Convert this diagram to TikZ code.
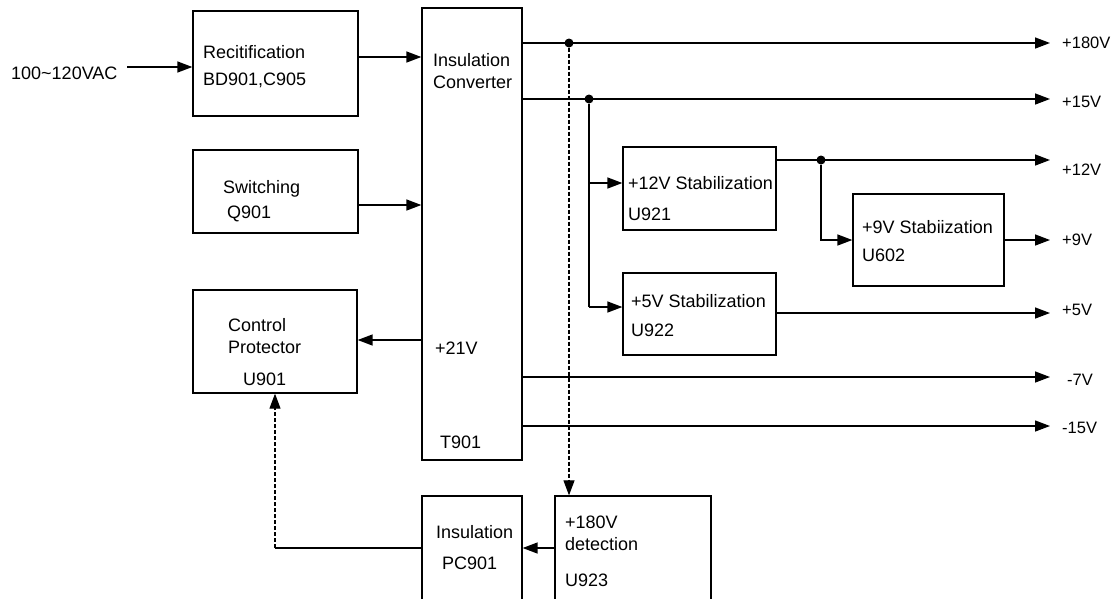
\documentclass[tikz,border=0pt]{standalone}
\usepackage{fontspec}
\setmainfont{Liberation Sans}
\usetikzlibrary{arrows.meta,fit}
\begin{document}
\begin{tikzpicture}[x=1pt,y=-1pt,
  box/.style={draw=black,line width=1.3pt,inner sep=0pt,rectangle},
  lbl/.style={anchor=west,inner sep=0pt,font=\fontsize{18}{21}\selectfont},
  outlbl/.style={anchor=west,inner sep=0pt,font=\fontsize{16.5}{19}\selectfont},
  tip/.tip={Triangle[length=15pt,width=11pt]},
  wire/.style={line width=1.4pt},
  arr/.style={line width=1.4pt,-tip},
  dashline/.style={line width=1.1pt,dash pattern=on 4pt off 2pt},
  junction/.style={circle,fill=black,inner sep=0pt,minimum size=9pt}]
\clip (0,0) rectangle (1115,598);
\fill[white] (0,0) rectangle (1115,598);
% boxes
\node[box,fit={(193,11)(358,116)}] (rec) {};
\node[box,fit={(193,150)(358,233)}] (sw) {};
\node[box,fit={(193,290)(357,393)}] (ctl) {};
\node[box,fit={(422,8)(522,460)}] (conv) {};
\node[box,fit={(623,147)(776,230)}] (s12) {};
\node[box,fit={(623,273)(776,355)}] (s5) {};
\node[box,fit={(853,194)(1004,286)}] (s9) {};
\node[box,fit={(422,496)(522,640)}] (pc) {};
\node[box,fit={(555,496)(711,640)}] (det) {};
% texts
\node[lbl] (tin) at (11,73) {100\textasciitilde120VAC};
\node[lbl] (trec1) at (203,52) {Recitification};
\node[lbl] (trec2) at (203,80) {BD901,C905};
\node[lbl] (tsw1) at (223,189) {Switching};
\node[lbl] (tsw2) at (227,214) {Q901};
\node[lbl] (tctl1) at (228,325) {Control};
\node[lbl] (tctl2) at (228,347) {Protector};
\node[lbl] (tctl3) at (243,379) {U901};
\node[lbl] (tconv1) at (433,60) {Insulation};
\node[lbl] (tconv2) at (433,82) {Converter};
\node[lbl] (tconv3) at (435,348) {+21V};
\node[lbl] (tconv4) at (440,442) {T901};
\node[lbl] (ts12a) at (628,183) {+12V Stabilization};
\node[lbl] (ts12b) at (628,214) {U921};
\node[lbl] (ts9a) at (862,227) {+9V Stabiization};
\node[lbl] (ts9b) at (862,255) {U602};
\node[lbl] (ts5a) at (631,301) {+5V Stabilization};
\node[lbl] (ts5b) at (631,330) {U922};
\node[lbl] (tpc1) at (436,532) {Insulation};
\node[lbl] (tpc2) at (442,563) {PC901};
\node[lbl] (tdet1) at (565,522) {+180V};
\node[lbl] (tdet2) at (565,544) {detection};
\node[lbl] (tdet3) at (565,580) {U923};
\node[outlbl] (o180) at (1062,43) {+180V};
\node[outlbl] (o15) at (1062,102) {+15V};
\node[outlbl] (o12) at (1062,170) {+12V};
\node[outlbl] (o9) at (1062,240) {+9V};
\node[outlbl] (o5) at (1062,310) {+5V};
\node[outlbl] (om7) at (1067,380) {-7V};
\node[outlbl] (om15) at (1062,428) {-15V};
% coordinates
\coordinate (inS) at (127,67);
\coordinate (y57) at (0,57);
\coordinate (y205) at (0,205);
\coordinate (y340) at (0,340);
\coordinate (e180) at (1050,43);
\coordinate (e15) at (1050,99);
\coordinate (e12) at (1050,160);
\coordinate (e9) at (1050,240);
\coordinate (e5) at (1050,313);
\coordinate (em7) at (1050,377);
\coordinate (em15) at (1050,426);
\coordinate (y183) at (0,183);
\coordinate (y307) at (0,307);
\coordinate (y548) at (0,548);
\coordinate (fbc) at (275,548);
\node[junction] (j180) at (569,43) {};
\node[junction] (j15) at (589,99) {};
\node[junction] (j12) at (821,160) {};
% connectors
\draw[arr] (inS) -- (rec.west |- inS);
\draw[arr] (rec.east |- y57) -- (conv.west |- y57);
\draw[arr] (sw.east |- y205) -- (conv.west |- y205);
\draw[arr] (conv.west |- y340) -- (ctl.east |- y340);
\draw[arr] (conv.east |- e180) -- (e180);
\draw[arr] (conv.east |- e15) -- (e15);
\draw[wire] (j15) -- (j15 |- y307);
\draw[arr] (j15 |- y183) -- (s12.west |- y183);
\draw[arr] (j15 |- y307) -- (s5.west |- y307);
\draw[arr] (s12.east |- e12) -- (e12);
\draw[arr] (j12) |- (s9.west |- e9);
\draw[arr] (s9.east |- e9) -- (e9);
\draw[arr] (s5.east |- e5) -- (e5);
\draw[arr] (conv.east |- em7) -- (em7);
\draw[arr] (conv.east |- em15) -- (em15);
\draw[arr] (det.west |- y548) -- (pc.east |- y548);
\draw[wire] (pc.west |- y548) -- (fbc);
\draw[dashline,-tip] (fbc) -- (fbc |- ctl.south);
\draw[dashline,-tip] (j180) -- (j180 |- det.north);
\end{tikzpicture}
\end{document}
